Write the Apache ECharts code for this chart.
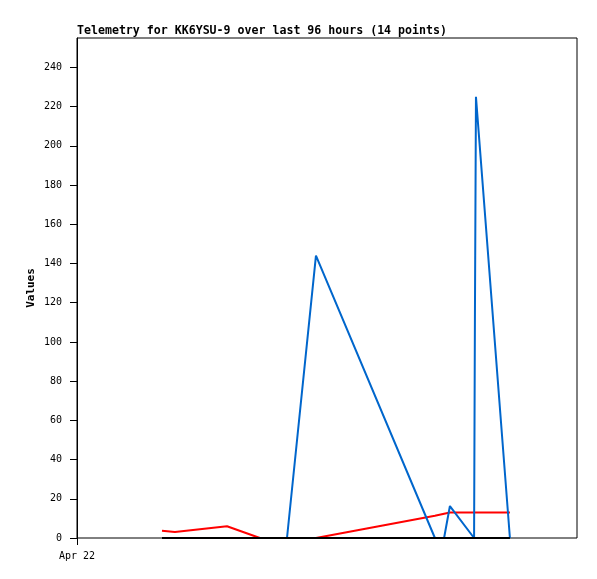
<!DOCTYPE html>
<html><head><meta charset="utf-8">
<script src="https://cdn.jsdelivr.net/npm/echarts@6/dist/echarts.min.js"></script>
<style>html,body{margin:0;padding:0;background:#fff}#c{width:597px;height:579px}</style>
</head><body><div id="c"></div>
<script>
// hours since Apr 22 00:00
const hours = [4.08, 4.70, 7.20, 8.78, 10.08, 11.47, 17.18, 17.62, 17.90, 19.06, 19.10, 19.15, 20.78];
const redValues = [3.7, 3.0, 6.0, 0, 0, 0, 11.3, 12.4, 13.0, 13.0, 13.0, 13.0, 13.0];
const blueValues = [0, 0, 0, 0, 0, 144, 0, 0, 16.3, 0, 112, 225, 0];
const blackValues = [0, 0, 0, 0, 0, 0, 0, 0, 0, 0, 0, 0, 0];
const yTicks = [0, 20, 40, 60, 80, 100, 120, 140, 160, 180, 200, 220, 240];
const xTicks = [0];
const xLabel = 'Apr 22';

const pairs = v => hours.map((h, i) => [h, v[i]]);
const chart = echarts.init(document.getElementById('c'), null, {renderer: 'canvas'});
chart.setOption({
  animation: false,
  title: {
    text: 'Telemetry for KK6YSU-9 over last 96 hours (14 points)',
    left: 72, top: 20,
    textStyle: {fontFamily: 'DejaVu Sans Mono', fontWeight: 'bold', fontSize: 11.6, color: '#000'}
  },
  grid: {left: 77, right: 20, top: 38, bottom: 41, show: true, borderColor: '#000', borderWidth: 1, backgroundColor: '#fff'},
  xAxis: {
    type: 'value', min: 0, max: 24, interval: 24,
    axisLine: {show: false},
    axisTick: {show: true, customValues: xTicks, length: 7, lineStyle: {color: '#000'}},
    splitLine: {show: false},
    axisLabel: {
      customValues: xTicks,
      formatter: v => v === 0 ? xLabel : '',
      fontFamily: 'DejaVu Sans Mono', fontSize: 10, color: '#000', margin: 13
    }
  },
  yAxis: {
    type: 'value', min: 0, max: 255, interval: 20,
    name: 'Values', nameLocation: 'middle', nameGap: 40, nameRotate: 90, nameMoveOverlap: false,
    nameTextStyle: {fontFamily: 'DejaVu Sans Mono', fontWeight: 'bold', fontSize: 11, color: '#000'},
    axisLine: {show: true, lineStyle: {color: '#000', width: 1}},
    axisTick: {show: true, customValues: yTicks, length: 7, lineStyle: {color: '#000'}},
    splitLine: {show: false},
    axisLabel: {
      customValues: yTicks,
      formatter: v => String(v),
      fontFamily: 'DejaVu Sans Mono', fontSize: 10, color: '#000', margin: 15
    }
  },
  series: [
    {type: 'line', data: pairs(redValues), showSymbol: false, lineStyle: {color: '#ff0000', width: 2}, itemStyle: {color: '#ff0000'}, z: 2},
    {type: 'line', data: pairs(blueValues), showSymbol: false, lineStyle: {color: '#0066cc', width: 2}, itemStyle: {color: '#0066cc'}, z: 3},
    {type: 'line', data: pairs(blackValues), showSymbol: false, lineStyle: {color: '#000', width: 2}, itemStyle: {color: '#000'}, z: 4}
  ]
});
</script>
</body></html>
